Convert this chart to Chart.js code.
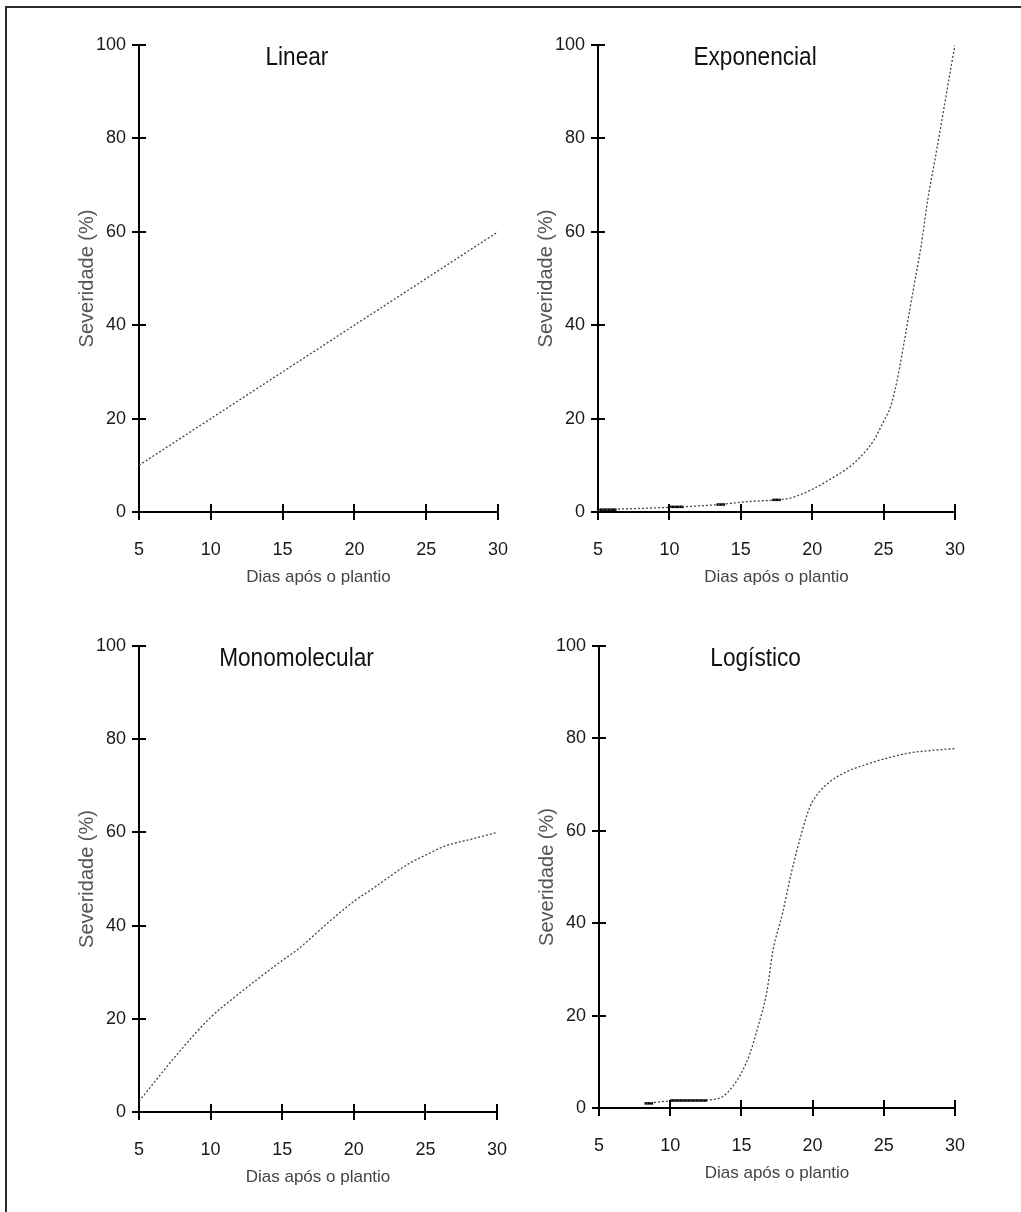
<!DOCTYPE html>
<html>
<head>
<meta charset="utf-8">
<script src="https://cdn.jsdelivr.net/npm/chart.js@4.4.1/dist/chart.umd.min.js"></script>
<style>
  body { margin: 0; background: #fff; width: 1021px; height: 1212px; overflow: hidden; position: relative; }
  #frame { position: absolute; left: 5px; top: 6px; width: 1100px; height: 1300px;
           border-left: 2px solid #2b2b2b; border-top: 2px solid #2b2b2b; }
  .panel { position: absolute; width: 510px; height: 600px; }
</style>
</head>
<body>
<div id="frame"></div>
<div class="panel" style="left:0;top:0"><canvas id="linear" width="510" height="600"></canvas></div>
<div class="panel" style="left:459px;top:0"><canvas id="exponencial" width="510" height="600"></canvas></div>
<div class="panel" style="left:0;top:601px"><canvas id="monomolecular" width="510" height="600"></canvas></div>
<div class="panel" style="left:460px;top:601px"><canvas id="logistico" width="510" height="600"></canvas></div>

<script>
'use strict'

// values (days after planting -> severity %)
const linearX = [5, 10, 15, 20, 25, 30];
const linearY = [10, 20, 30, 40, 50, 60];

const expX = [5, 10, 13.5, 15.4, 17.5, 18.5, 19.9, 21.3, 22.9, 24.3, 25, 25.5, 26, 26.5, 27.1, 27.6, 28.1, 28.6, 29.2, 29.7, 30];
const expY = [0.5, 1, 1.6, 2.2, 2.6, 3, 4.7, 7.1, 10.4, 15.3, 19.4, 22.7, 29, 37.5, 48, 56.5, 67, 75.5, 86, 94.9, 100];

const monoX = [5, 8, 10, 11.9, 15, 16, 18.6, 20, 21.4, 23.9, 25, 26.3, 28.4, 30];
const monoY = [2.3, 13.6, 20.3, 25.2, 32.5, 34.7, 41.7, 45.2, 48.1, 53.4, 55.1, 57, 58.7, 60];

const logX = [8.3, 10, 12.5, 13.7, 14.4, 15, 15.6, 16.1, 16.8, 17.2, 17.9, 18.5, 19.2, 19.8, 20.5, 21.2, 22.4, 23.8, 25.2, 26.7, 28.4, 30];
const logY = [1, 1.5, 1.7, 2.5, 4.7, 7.6, 11.8, 16.9, 25.4, 33.8, 42.3, 50.8, 59.2, 65.1, 68.5, 70.6, 72.8, 74.4, 75.7, 76.8, 77.4, 77.8];

// short heavy strokes near the baseline: [xStart, xEnd, y]
const expMarks = [[5.1, 6.3, 0.5], [9.9, 11, 1.1], [13.3, 13.9, 1.6], [17.2, 17.8, 2.6]];
const logMarks = [[8.2, 8.8, 1.0], [10, 12.6, 1.6]];

const xTicks = { min: 5, max: 30, step: 5 };
const yTicks = { min: 0, max: 100, step: 20 };
const xTitle = 'Dias após o plantio';
const yTitle = 'Severidade (%)';

Chart.defaults.font.family = '"Liberation Sans", Arial, sans-serif';

const crossTicks = {
    id: 'crossTicks',
    afterDatasetsDraw(chart) {
        const { ctx, chartArea: a, scales: { x, y } } = chart;
        ctx.save();
        ctx.strokeStyle = '#000';
        ctx.lineWidth = 2;
        ctx.beginPath();
        y.ticks.forEach(t => {
            const py = Math.round(y.getPixelForValue(t.value));
            ctx.moveTo(a.left - 7, py);
            ctx.lineTo(a.left + 7, py);
        });
        x.ticks.forEach(t => {
            const px = Math.round(x.getPixelForValue(t.value));
            ctx.moveTo(px, a.bottom - 8);
            ctx.lineTo(px, a.bottom + 8);
        });
        ctx.stroke();
        ctx.restore();
    }
};

const panelTitle = {
    id: 'panelTitle',
    afterDraw(chart, args, opts) {
        const { ctx, chartArea: a } = chart;
        ctx.save();
        ctx.translate(a.left + a.width * 0.44, a.top + 13);
        ctx.scale(0.87, 1);
        ctx.font = '26px "Liberation Sans", Arial, sans-serif';
        ctx.fillStyle = '#111';
        ctx.textAlign = 'center';
        ctx.textBaseline = 'middle';
        ctx.fillText(opts.text, 0, 0);
        ctx.restore();
    }
};

function makeChart(id, title, xs, ys, marks, pad) {
    const datasets = [{
        data: xs.map((x, i) => ({ x, y: ys[i] })),
        borderColor: '#444',
        borderWidth: 1.3,
        borderDash: [2, 2],
        pointRadius: 0,
        cubicInterpolationMode: 'monotone',
        fill: false
    }];
    (marks || []).forEach(m => {
        datasets.push({
            data: [{ x: m[0], y: m[2] }, { x: m[1], y: m[2] }],
            borderColor: '#000',
            borderWidth: 2.5,
            pointRadius: 0
        });
    });

    new Chart(document.getElementById(id), {
        type: 'line',
        data: { datasets },
        plugins: [crossTicks, panelTitle],
        options: {
            responsive: false,
            animation: false,
            layout: { padding: pad },
            plugins: {
                legend: { display: false },
                tooltip: { enabled: false },
                panelTitle: { text: title }
            },
            scales: {
                x: {
                    type: 'linear',
                    min: xTicks.min, max: xTicks.max,
                    ticks: { stepSize: xTicks.step, padding: 2, color: '#1a1a1a', font: { size: 18 } },
                    grid: { display: false, drawTicks: true, tickLength: 25 },
                    border: { display: true, color: '#000', width: 2 },
                    title: { display: true, text: xTitle, color: '#444', font: { size: 17 }, padding: { top: 4, bottom: 0 } },
                    afterFit: s => { s.height = 76; }
                },
                y: {
                    type: 'linear',
                    min: yTicks.min, max: yTicks.max,
                    ticks: { stepSize: yTicks.step, padding: 13, color: '#1a1a1a', font: { size: 18 } },
                    grid: { display: false, drawTicks: false },
                    border: { display: true, color: '#000', width: 2 },
                    title: { display: true, text: yTitle, color: '#555', font: { size: 20 }, padding: { top: 75, bottom: 0 } },
                    afterFit: s => { s.width = 139; }
                }
            }
        }
    });
}

makeChart('linear', 'Linear', linearX, linearY, null, { top: 45, right: 12, bottom: 12, left: 0 });
makeChart('exponencial', 'Exponencial', expX, expY, expMarks, { top: 45, right: 14, bottom: 12, left: 0 });
makeChart('monomolecular', 'Monomolecular', monoX, monoY, null, { top: 45, right: 13, bottom: 13, left: 0 });
makeChart('logistico', 'Logístico', logX, logY, logMarks, { top: 45, right: 15, bottom: 17, left: 0 });
</script>
</body>
</html>
